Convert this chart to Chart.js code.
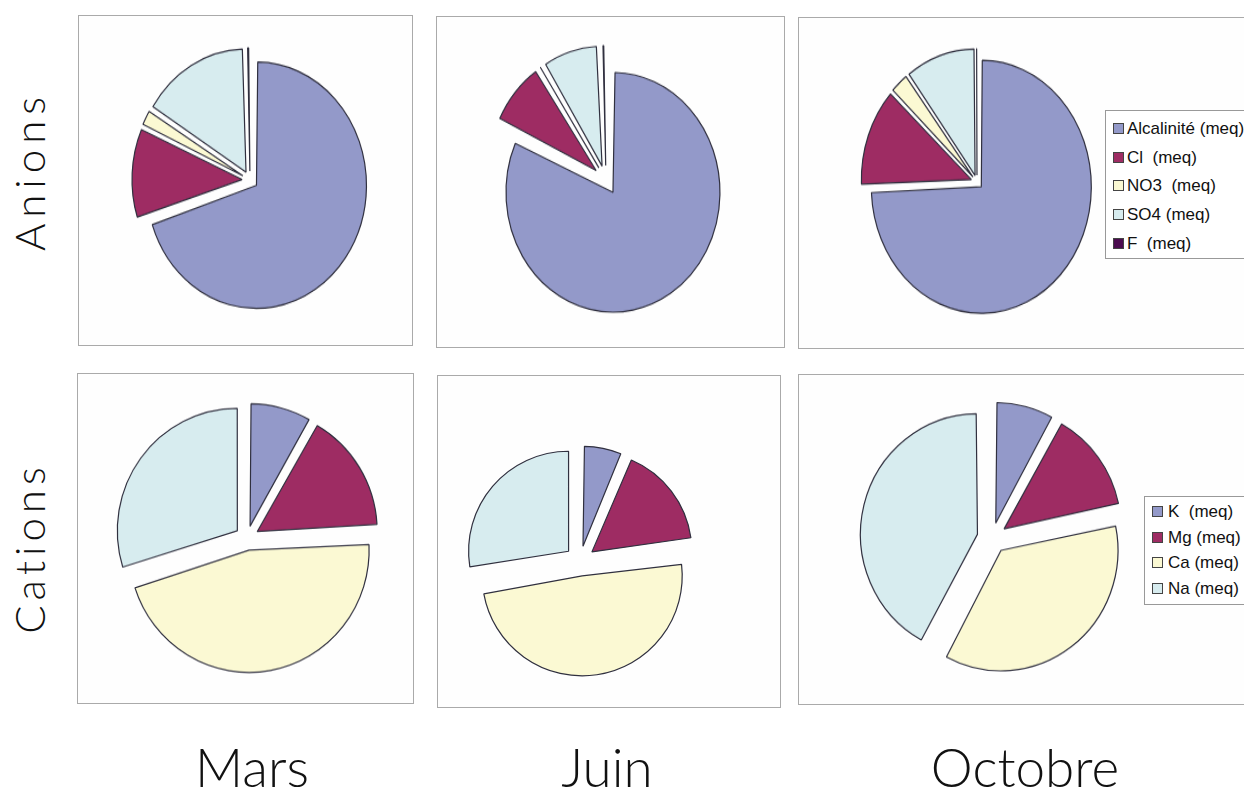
<!DOCTYPE html>
<html>
<head>
<meta charset="utf-8">
<script src="https://cdn.jsdelivr.net/npm/chart.js@4"></script>
<style>
  body { margin: 0; width: 1244px; height: 791px; overflow: hidden; background: #fff; position: relative; font-family: "Liberation Sans", Arial, sans-serif; }
  .panel { position: absolute; border: 1px solid #aaa; background: #fefefe; box-sizing: border-box; }
  .pie { position: absolute; width: 300px; height: 300px; transform-origin: 50% 50%; }
  .big { position: absolute; font-family: Lato, "Open Sans", sans-serif; font-weight: 300; color: #111; white-space: nowrap; line-height: 1; }
  .legend { position: absolute; border: 1px solid #999; background: #fff; box-sizing: border-box; }
  .legend div { position: absolute; white-space: pre; color: #111; }
  .legend span { position: absolute; border: 1px solid #444; box-sizing: border-box; }
</style>
</head>
<body>
<div class="panel" style="left:78px;top:15px;width:335px;height:331px"></div>
<div class="panel" style="left:436px;top:16px;width:349px;height:332px"></div>
<div class="panel" style="left:798px;top:17px;width:460px;height:332px"></div>
<div class="panel" style="left:77px;top:373px;width:337px;height:331px"></div>
<div class="panel" style="left:437px;top:375px;width:344px;height:333px"></div>
<div class="panel" style="left:798px;top:374px;width:460px;height:331px"></div>

<div class="pie" id="w0"><canvas id="c0" width="300" height="300"></canvas></div>
<div class="pie" id="w1"><canvas id="c1" width="300" height="300"></canvas></div>
<div class="pie" id="w2"><canvas id="c2" width="300" height="300"></canvas></div>
<div class="pie" id="w3"><canvas id="c3" width="300" height="300"></canvas></div>
<div class="pie" id="w4"><canvas id="c4" width="300" height="300"></canvas></div>
<div class="pie" id="w5"><canvas id="c5" width="300" height="300"></canvas></div>

<div class="legend" id="legA" style="left:1105px;top:110px;width:160px;height:149px"></div>
<div class="legend" id="legC" style="left:1144px;top:496px;width:120px;height:109px"></div>

<div class="big" style="left:29px;top:171px;font-size:42px;letter-spacing:6px;transform:translate(-50%,-50%) rotate(-90deg)">Anions</div>
<div class="big" style="left:29px;top:548px;font-size:42px;letter-spacing:5px;transform:translate(-50%,-50%) rotate(-90deg)">Cations</div>
<div class="big" style="left:252px;top:766px;font-size:53px;transform:translate(-50%,-50%)">Mars</div>
<div class="big" style="left:607px;top:766px;font-size:53px;transform:translate(-50%,-50%)">Juin</div>
<div class="big" style="left:1025px;top:766px;font-size:53px;transform:translate(-50%,-50%)">Octobre</div>

<script>
// Categories
const anionLabels = ['Alcalinité (meq)', 'Cl  (meq)', 'NO3  (meq)', 'SO4 (meq)', 'F  (meq)'];
const cationLabels = ['K  (meq)', 'Mg (meq)', 'Ca (meq)', 'Na (meq)'];
const months = ['Mars', 'Juin', 'Octobre'];

// Shares (%)
const anionsMars = [70.0, 11.7, 2.2, 15.6, 0.5];
const anionsJuin = [82.0, 8.6, 0.4, 8.3, 0.7];
const anionsOctobre = [74.4, 12.5, 2.8, 10.2, 0.1];
const cationsMars = [8.3, 15.8, 46.1, 29.8];
const cationsJuin = [6.4, 16.4, 49.7, 27.5];
const cationsOctobre = [8.1, 13.6, 36.1, 42.2];

const anionColors = ['#9399c9', '#9e2c63', '#fbf9d3', '#d7ecef', '#4b0c4f'];
const cationColors = ['#9399c9', '#9e2c63', '#fbf9d3', '#d7ecef'];

// placement of each pie: centre, radius, explode distance (px), vertical stretch
const layout = [
  { cx: 250, cy: 180, r: 110, d: 8, k: 1.12 },
  { cx: 606, cy: 180, r: 107, d: 13, k: 1.12 },
  { cx: 977, cy: 182, r: 110, d: 6, k: 1.15 },
  { cx: 247, cy: 538, r: 120, d: 12, k: 1.02 },
  { cx: 580, cy: 561, r: 100, d: 15, k: 1.0 },
  { cx: 992, cy: 538, r: 117, d: 15, k: 1.03 }
];

const series = [
  [anionLabels, anionsMars, anionColors],
  [anionLabels, anionsJuin, anionColors],
  [anionLabels, anionsOctobre, anionColors],
  [cationLabels, cationsMars, cationColors],
  [cationLabels, cationsJuin, cationColors],
  [cationLabels, cationsOctobre, cationColors]
];

// Chart.js shifts an arc by offset/4 and also grows its radius a bit; undo the growth
// so exploded slices keep the same radius as in the original
const keepRadius = {
  id: 'keepRadius',
  afterDatasetUpdate(chart, args) {
    const ds = chart.data.datasets[args.index];
    args.meta.data.forEach(arc => {
      const fix = 1 - Math.sin(Math.min(Math.PI, arc.circumference));
      arc.outerRadius = ds.radius - (ds.offset / 4) * fix;
    });
  }
};

series.forEach(([labels, values, colors], i) => {
  const L = layout[i];
  const wrap = document.getElementById('w' + i);
  wrap.style.left = (L.cx - 150) + 'px';
  wrap.style.top = (L.cy - 150) + 'px';
  wrap.style.transform = 'scaleY(' + L.k + ')';

  new Chart(document.getElementById('c' + i), {
    type: 'pie',
    data: {
      labels: labels,
      datasets: [{
        data: values,
        backgroundColor: colors,
        borderColor: '#30303f',
        borderWidth: 1.2,
        offset: L.d * 4,
        radius: L.r
      }]
    },
    options: {
      responsive: false,
      animation: false,
      layout: { padding: 0 },
      plugins: { legend: { display: false }, tooltip: { enabled: false } }
    },
    plugins: [keepRadius]
  });
});

// legends
function buildLegend(id, labels, colors, y0, step, fontSize, sx, tx) {
  const box = document.getElementById(id);
  labels.forEach((lab, i) => {
    const sw = document.createElement('span');
    sw.style.cssText = `left:${sx}px;top:${y0 + i * step - 6}px;width:11px;height:11px;background:${colors[i]}`;
    const t = document.createElement('div');
    t.textContent = lab;
    t.style.cssText = `left:${tx}px;top:${y0 + i * step - fontSize * 0.6}px;font-size:${fontSize}px;line-height:1.15`;
    box.appendChild(sw);
    box.appendChild(t);
  });
}
buildLegend('legA', anionLabels, anionColors, 18, 28.7, 17, 7, 21);
buildLegend('legC', cationLabels, cationColors, 15, 25.7, 17, 7, 23);
</script>
</body>
</html>
